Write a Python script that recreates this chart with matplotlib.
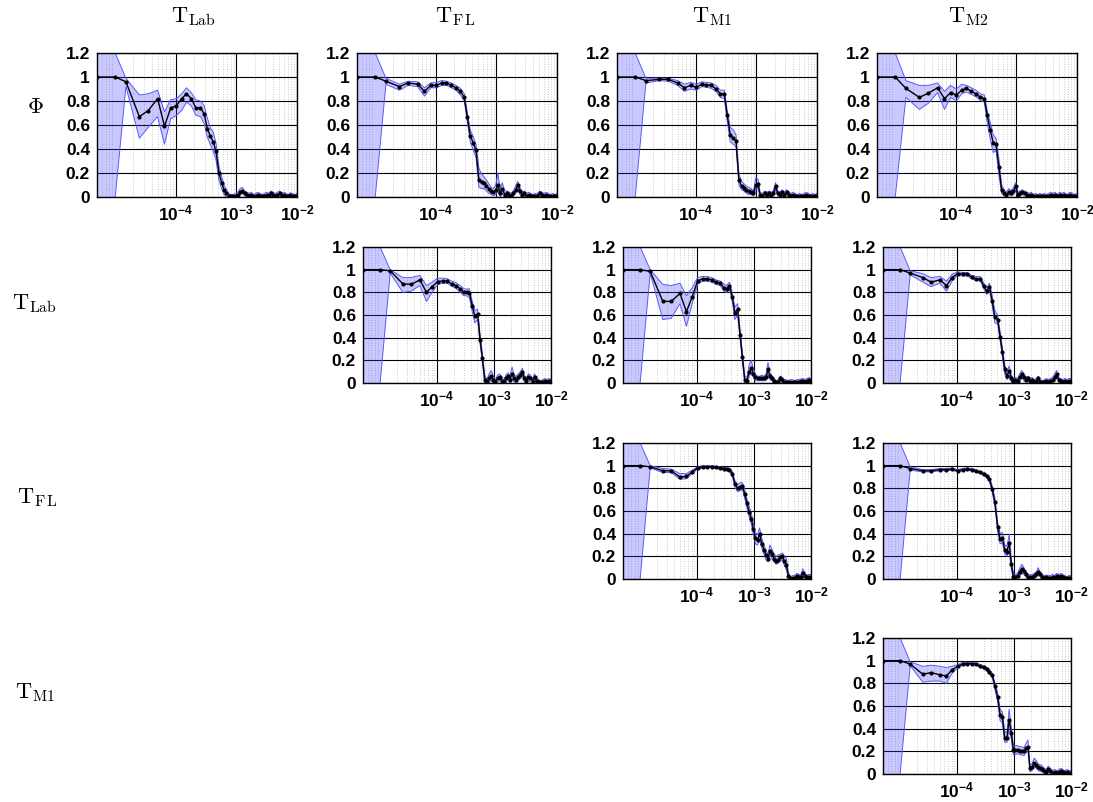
#!/usr/bin/env python3
"""Pairwise coherence grid: Phi vs frequency for each pair of series."""

import numpy as np
import matplotlib
matplotlib.use("Agg")
import matplotlib.pyplot as plt
from matplotlib.ticker import FixedLocator, LogLocator, NullFormatter

plt.rcParams['font.family'] = ['Liberation Sans', 'DejaVu Sans']
plt.rcParams['font.weight'] = 'bold'
plt.rcParams['mathtext.fontset'] = 'custom'
plt.rcParams['mathtext.rm'] = 'Liberation Sans:bold'
plt.rcParams['mathtext.bf'] = 'Liberation Sans:bold'
plt.rcParams['mathtext.it'] = 'Liberation Sans:bold'

# ---- data -------------------------------------------------------------
FREQ = [5e-6, 1e-5, 1.5e-5, 2.5e-5, 3.5e-5, 5e-5, 6.5e-5, 8.2e-5, 1.02e-4, 1.25e-4,
        1.5e-4, 1.8e-4, 2.15e-4, 2.55e-4, 2.95e-4, 3.3e-4, 3.7e-4, 4.15e-4, 4.6e-4, 5.15e-4,
        5.7e-4, 6.25e-4, 6.85e-4, 7.5e-4, 8.2e-4, 8.95e-4, 9.75e-4, 1.06e-3, 1.15e-3, 1.25e-3,
        1.37e-3, 1.49e-3, 1.62e-3, 1.76e-3, 1.9e-3, 2.07e-3, 2.25e-3, 2.45e-3, 2.65e-3, 2.9e-3,
        3.15e-3, 3.4e-3, 3.7e-3, 4.0e-3, 4.35e-3, 4.75e-3, 5.15e-3, 5.6e-3, 6.1e-3, 6.6e-3,
        7.2e-3, 7.8e-3, 8.5e-3, 9.2e-3, 1e-2]

COL_LABELS = [r'$\mathrm{T}_{\mathrm{Lab}}$', r'$\mathrm{T}_{\mathrm{F\,L}}$',
              r'$\mathrm{T}_{\mathrm{M1}}$', r'$\mathrm{T}_{\mathrm{M2}}$']
ROW_LABELS = [r'$\Phi$', r'$\mathrm{T}_{\mathrm{Lab}}$', r'$\mathrm{T}_{\mathrm{F\,L}}$',
              r'$\mathrm{T}_{\mathrm{M1}}$']

Y_TICKS = [0, 0.2, 0.4, 0.6, 0.8, 1.0, 1.2]
Y_TICK_LABELS = ['0', '0.2', '0.4', '0.6', '0.8', '1', '1.2']
X_TICKS = [1e-4, 1e-3, 1e-2]
X_TICK_LABELS = [r'$\mathbf{10^{-4}}$', r'$\mathbf{10^{-3}}$', r'$\mathbf{10^{-2}}$']

# row 0: Phi
phi_lab = [1.0, 1.0, 0.96, 0.67, 0.72, 0.82, 0.59, 0.74, 0.76, 0.82, 0.86, 0.82, 0.74, 0.745, 0.69,
           0.57, 0.51, 0.46, 0.38, 0.20, 0.12, 0.06, 0.03, 0.01, 0.005, 0.005, 0.01, 0.02, 0.04, 0.05,
           0.03, 0.02, 0.01, 0.02, 0.005, 0.01, 0.02, 0.01, 0.005, 0.01, 0.02, 0.01, 0.03, 0.02, 0.01,
           0.02, 0.03, 0.01, 0.02, 0.01, 0.005, 0.015, 0.01, 0.005, 0.01]
phi_lab_lo = [-2.0, 0.0, 0.92, 0.49, 0.58, 0.67, 0.44, 0.65, 0.68, 0.72, 0.79, 0.76, 0.68, 0.67, 0.61,
              0.50, 0.44, 0.38, 0.31, 0.14, 0.07, 0.02, 0.0, -0.01, -0.01, -0.01, -0.01, 0.0, 0.02, 0.03,
              0.01, 0.0, -0.01, 0.0, -0.01, -0.01, 0.0, -0.01, -0.01, -0.01, 0.0, -0.01, 0.01, 0.0, -0.01,
              0.0, 0.01, -0.01, 0.0, -0.01, -0.01, 0.0, -0.01, -0.01, -0.01]
phi_lab_hi = [3.0, 1.2, 0.99, 0.85, 0.86, 0.89, 0.71, 0.81, 0.82, 0.86, 0.91, 0.87, 0.81, 0.80, 0.76,
              0.66, 0.58, 0.54, 0.45, 0.26, 0.17, 0.10, 0.06, 0.03, 0.02, 0.02, 0.03, 0.04, 0.07, 0.08,
              0.05, 0.04, 0.03, 0.04, 0.02, 0.03, 0.04, 0.03, 0.02, 0.03, 0.04, 0.03, 0.05, 0.04, 0.03,
              0.04, 0.05, 0.03, 0.04, 0.03, 0.02, 0.035, 0.03, 0.02, 0.03]

phi_fl = [1.0, 1.0, 0.965, 0.92, 0.95, 0.94, 0.88, 0.93, 0.93, 0.95, 0.95, 0.93, 0.91, 0.88, 0.83,
          0.67, 0.51, 0.45, 0.39, 0.14, 0.125, 0.12, 0.09, 0.07, 0.05, 0.04, 0.06, 0.10, 0.03, 0.07,
          0.02, 0.03, 0.02, 0.01, 0.03, 0.06, 0.10, 0.05, 0.02, 0.03, 0.01, 0.02, 0.01, 0.005, 0.01,
          0.01, 0.03, 0.02, 0.01, 0.02, 0.01, 0.005, 0.01, 0.005, 0.01]
phi_fl_lo = [-2.0, 0.0, 0.94, 0.89, 0.93, 0.92, 0.84, 0.91, 0.91, 0.93, 0.93, 0.91, 0.89, 0.85, 0.80,
             0.63, 0.46, 0.39, 0.33, 0.08, 0.07, 0.07, 0.05, 0.03, 0.02, 0.01, 0.02, 0.05, 0.0, 0.03,
             0.0, 0.01, 0.0, -0.01, 0.01, 0.03, 0.07, 0.02, 0.0, 0.01, -0.01, 0.0, -0.01, -0.01, -0.01,
             -0.01, 0.01, 0.0, -0.01, 0.0, -0.01, -0.01, -0.01, -0.01, -0.01]
phi_fl_hi = [3.0, 1.2, 0.99, 0.94, 0.965, 0.96, 0.91, 0.95, 0.955, 0.97, 0.965, 0.95, 0.93, 0.905, 0.86,
             0.71, 0.56, 0.50, 0.44, 0.24, 0.19, 0.17, 0.14, 0.11, 0.08, 0.07, 0.10, 0.20, 0.06, 0.12,
             0.05, 0.05, 0.04, 0.03, 0.05, 0.09, 0.13, 0.08, 0.04, 0.05, 0.03, 0.04, 0.03, 0.02, 0.03,
             0.03, 0.05, 0.04, 0.03, 0.04, 0.03, 0.02, 0.03, 0.02, 0.03]

phi_m1 = [1.0, 1.0, 0.97, 0.98, 0.98, 0.95, 0.91, 0.93, 0.915, 0.94, 0.935, 0.93, 0.90, 0.86, 0.86,
          0.68, 0.52, 0.49, 0.47, 0.14, 0.09, 0.075, 0.06, 0.05, 0.04, 0.03, 0.10, 0.11, 0.02, 0.01,
          0.03, 0.02, 0.03, 0.02, 0.03, 0.09, 0.03, 0.02, 0.04, 0.02, 0.04, 0.02, 0.01, 0.02, 0.01,
          0.005, 0.01, 0.005, 0.01, 0.02, 0.01, 0.005, 0.01, 0.005, 0.01]
phi_m1_lo = [-2.0, 0.0, 0.95, 0.97, 0.965, 0.93, 0.88, 0.90, 0.89, 0.92, 0.915, 0.905, 0.88, 0.83, 0.82,
             0.63, 0.46, 0.44, 0.42, 0.10, 0.06, 0.05, 0.03, 0.02, 0.02, 0.01, 0.06, 0.07, 0.0, -0.01,
             0.01, 0.0, 0.01, 0.0, 0.01, 0.06, 0.01, 0.0, 0.02, 0.0, 0.02, 0.0, -0.01, 0.0, -0.01,
             -0.01, -0.01, -0.01, -0.01, 0.0, -0.01, -0.01, -0.01, -0.01, -0.01]
phi_m1_hi = [3.0, 1.2, 0.99, 0.99, 0.99, 0.97, 0.94, 0.955, 0.94, 0.96, 0.955, 0.95, 0.93, 0.89, 0.89,
             0.72, 0.58, 0.56, 0.52, 0.19, 0.13, 0.11, 0.09, 0.08, 0.07, 0.05, 0.16, 0.15, 0.04, 0.03,
             0.05, 0.04, 0.05, 0.04, 0.05, 0.12, 0.05, 0.04, 0.06, 0.04, 0.06, 0.04, 0.03, 0.04, 0.03,
             0.02, 0.03, 0.02, 0.03, 0.04, 0.03, 0.02, 0.03, 0.02, 0.03]

phi_m2 = [1.0, 1.0, 0.905, 0.83, 0.865, 0.91, 0.82, 0.87, 0.85, 0.89, 0.905, 0.88, 0.86, 0.83, 0.82,
          0.68, 0.56, 0.45, 0.44, 0.25, 0.06, 0.03, 0.02, 0.04, 0.03, 0.05, 0.09, 0.02, 0.03, 0.04,
          0.03, 0.02, 0.01, 0.02, 0.005, 0.01, 0.005, 0.01, 0.005, 0.01, 0.005, 0.01, 0.02, 0.01, 0.02,
          0.005, 0.02, 0.01, 0.02, 0.005, 0.01, 0.02, 0.01, 0.005, 0.01]
phi_m2_lo = [-2.0, 0.0, 0.83, 0.73, 0.78, 0.87, 0.73, 0.83, 0.80, 0.86, 0.875, 0.855, 0.835, 0.805, 0.79,
             0.62, 0.48, 0.37, 0.39, 0.18, 0.03, 0.01, 0.0, 0.02, 0.01, 0.02, 0.06, 0.0, 0.01, 0.02,
             0.01, 0.0, -0.01, 0.0, -0.01, -0.01, -0.01, -0.01, -0.01, -0.01, -0.01, -0.01, 0.0, -0.01, 0.0,
             -0.01, 0.0, -0.01, 0.0, -0.01, -0.01, 0.0, -0.01, -0.01, -0.01]
phi_m2_hi = [3.0, 1.2, 0.97, 0.93, 0.93, 0.95, 0.88, 0.93, 0.90, 0.94, 0.93, 0.91, 0.89, 0.86, 0.85,
             0.72, 0.62, 0.52, 0.49, 0.32, 0.10, 0.06, 0.04, 0.07, 0.05, 0.08, 0.12, 0.04, 0.05, 0.06,
             0.05, 0.04, 0.03, 0.04, 0.02, 0.03, 0.02, 0.03, 0.02, 0.03, 0.02, 0.03, 0.04, 0.03, 0.04,
             0.02, 0.04, 0.03, 0.04, 0.02, 0.03, 0.04, 0.03, 0.02, 0.03]

# row 1: T_Lab
lab_fl = [1.0, 1.0, 0.99, 0.875, 0.87, 0.91, 0.80, 0.85, 0.895, 0.90, 0.90, 0.875, 0.86, 0.83, 0.80,
          0.80, 0.79, 0.68, 0.59, 0.61, 0.38, 0.22, 0.03, 0.005, 0.04, 0.06, 0.03, 0.01, 0.04, 0.05,
          0.02, 0.01, 0.04, 0.06, 0.03, 0.08, 0.04, 0.03, 0.05, 0.07, 0.10, 0.04, 0.02, 0.05, 0.04,
          0.02, 0.05, 0.02, 0.01, 0.005, 0.01, 0.02, 0.01, 0.02, 0.01]
lab_fl_lo = [-2.0, 0.0, 0.97, 0.80, 0.81, 0.86, 0.72, 0.80, 0.87, 0.88, 0.88, 0.855, 0.835, 0.80, 0.77,
             0.77, 0.75, 0.63, 0.53, 0.56, 0.34, 0.18, 0.0, -0.01, 0.01, 0.02, 0.0, -0.01, 0.01, 0.02,
             0.0, -0.01, 0.01, 0.03, 0.0, 0.04, 0.01, 0.0, 0.02, 0.04, 0.07, 0.01, 0.0, 0.02, 0.01,
             0.0, 0.02, 0.0, -0.01, -0.01, -0.01, 0.0, -0.01, 0.0, -0.01]
lab_fl_hi = [3.0, 1.2, 1.0, 0.93, 0.93, 0.95, 0.86, 0.89, 0.925, 0.925, 0.92, 0.90, 0.885, 0.86, 0.83,
             0.83, 0.83, 0.72, 0.64, 0.65, 0.42, 0.26, 0.07, 0.03, 0.08, 0.11, 0.06, 0.03, 0.07, 0.08,
             0.05, 0.03, 0.07, 0.09, 0.06, 0.14, 0.07, 0.06, 0.08, 0.10, 0.13, 0.07, 0.04, 0.08, 0.07,
             0.04, 0.08, 0.04, 0.03, 0.02, 0.03, 0.04, 0.03, 0.04, 0.03]

lab_m1 = [1.0, 1.0, 0.985, 0.72, 0.72, 0.79, 0.63, 0.76, 0.90, 0.92, 0.92, 0.91, 0.89, 0.88, 0.84,
          0.83, 0.86, 0.76, 0.62, 0.65, 0.42, 0.23, 0.03, 0.02, 0.10, 0.13, 0.08, 0.05, 0.04, 0.04,
          0.045, 0.04, 0.05, 0.12, 0.06, 0.04, 0.02, 0.005, 0.01, 0.04, 0.03, 0.01, 0.01, 0.005, 0.01,
          0.01, 0.005, 0.01, 0.01, 0.015, 0.02, 0.01, 0.02, 0.03, 0.01]
lab_m1_lo = [-2.0, 0.0, 0.97, 0.56, 0.57, 0.70, 0.50, 0.70, 0.87, 0.90, 0.90, 0.89, 0.87, 0.86, 0.81,
             0.80, 0.83, 0.72, 0.56, 0.60, 0.38, 0.19, 0.0, -0.01, 0.06, 0.09, 0.05, 0.02, 0.02, 0.02,
             0.02, 0.02, 0.02, 0.08, 0.03, 0.02, 0.0, -0.01, -0.01, 0.02, 0.01, -0.01, -0.01, -0.01, -0.01,
             -0.01, -0.01, -0.01, -0.01, 0.0, 0.0, -0.01, 0.0, 0.01, -0.01]
lab_m1_hi = [3.0, 1.2, 1.0, 0.87, 0.86, 0.88, 0.77, 0.84, 0.93, 0.94, 0.94, 0.93, 0.91, 0.90, 0.87,
             0.86, 0.89, 0.80, 0.67, 0.70, 0.46, 0.27, 0.06, 0.05, 0.16, 0.20, 0.12, 0.08, 0.06, 0.06,
             0.07, 0.06, 0.08, 0.18, 0.09, 0.06, 0.04, 0.02, 0.03, 0.06, 0.05, 0.03, 0.03, 0.02, 0.03,
             0.03, 0.02, 0.03, 0.03, 0.035, 0.04, 0.03, 0.04, 0.05, 0.03]

lab_m2 = [1.0, 1.0, 0.97, 0.93, 0.89, 0.91, 0.86, 0.93, 0.965, 0.96, 0.96, 0.935, 0.92, 0.92, 0.855,
          0.81, 0.85, 0.72, 0.58, 0.56, 0.41, 0.27, 0.12, 0.06, 0.11, 0.04, 0.02, 0.03, 0.02, 0.05,
          0.08, 0.05, 0.03, 0.04, 0.02, 0.03, 0.01, 0.02, 0.04, 0.01, 0.005, 0.01, 0.02, 0.01, 0.02,
          0.03, 0.05, 0.08, 0.03, 0.02, 0.01, 0.02, 0.01, 0.02, 0.02]
lab_m2_lo = [-2.0, 0.0, 0.955, 0.89, 0.85, 0.88, 0.81, 0.90, 0.95, 0.945, 0.945, 0.92, 0.905, 0.90, 0.83,
             0.78, 0.82, 0.68, 0.53, 0.52, 0.37, 0.23, 0.08, 0.03, 0.06, 0.01, 0.0, 0.01, 0.0, 0.02,
             0.05, 0.02, 0.01, 0.02, 0.0, 0.01, -0.01, 0.0, 0.02, -0.01, -0.01, -0.01, 0.0, -0.01, 0.0,
             0.01, 0.02, 0.05, 0.01, 0.0, -0.01, 0.0, -0.01, 0.0, 0.0]
lab_m2_hi = [3.0, 1.2, 0.99, 0.965, 0.93, 0.94, 0.90, 0.96, 0.98, 0.975, 0.975, 0.95, 0.94, 0.94, 0.88,
             0.84, 0.88, 0.77, 0.64, 0.60, 0.45, 0.31, 0.16, 0.10, 0.15, 0.07, 0.04, 0.05, 0.04, 0.08,
             0.11, 0.08, 0.05, 0.06, 0.04, 0.05, 0.03, 0.04, 0.06, 0.03, 0.02, 0.03, 0.04, 0.03, 0.04,
             0.05, 0.08, 0.11, 0.05, 0.04, 0.03, 0.04, 0.03, 0.04, 0.04]

# row 2: T_FL
fl_m1 = [1.0, 1.0, 0.99, 0.955, 0.955, 0.90, 0.905, 0.945, 0.98, 0.99, 0.99, 0.99, 0.985, 0.98, 0.975,
         0.97, 0.965, 0.93, 0.84, 0.80, 0.81, 0.82, 0.75, 0.67, 0.59, 0.53, 0.44, 0.36, 0.34, 0.40,
         0.31, 0.26, 0.21, 0.18, 0.25, 0.22, 0.18, 0.16, 0.17, 0.19, 0.20, 0.16, 0.12, 0.03, 0.005,
         0.01, 0.01, 0.03, 0.02, 0.02, 0.05, 0.03, 0.015, 0.02, 0.02]
fl_m1_lo = [-2.0, 0.0, 0.98, 0.94, 0.94, 0.88, 0.885, 0.93, 0.97, 0.98, 0.985, 0.985, 0.975, 0.97, 0.965,
            0.955, 0.95, 0.91, 0.81, 0.77, 0.78, 0.79, 0.71, 0.63, 0.55, 0.49, 0.39, 0.31, 0.30, 0.35,
            0.27, 0.22, 0.17, 0.15, 0.21, 0.18, 0.15, 0.13, 0.14, 0.16, 0.17, 0.12, 0.08, 0.01, -0.01,
            -0.01, -0.01, 0.01, 0.0, 0.0, 0.02, 0.01, -0.01, 0.0, 0.0]
fl_m1_hi = [3.0, 1.2, 1.0, 0.975, 0.97, 0.93, 0.93, 0.96, 0.99, 1.0, 1.0, 1.0, 0.995, 0.99, 0.985,
            0.98, 0.98, 0.95, 0.87, 0.83, 0.85, 0.85, 0.79, 0.71, 0.64, 0.58, 0.49, 0.41, 0.39, 0.45,
            0.36, 0.30, 0.25, 0.22, 0.30, 0.26, 0.22, 0.20, 0.21, 0.22, 0.23, 0.20, 0.18, 0.06, 0.02,
            0.03, 0.03, 0.05, 0.04, 0.04, 0.09, 0.05, 0.035, 0.04, 0.04]

fl_m2 = [1.0, 1.0, 0.975, 0.955, 0.955, 0.965, 0.965, 0.97, 0.955, 0.965, 0.97, 0.965, 0.955, 0.94, 0.925,
         0.91, 0.88, 0.79, 0.68, 0.46, 0.35, 0.36, 0.26, 0.24, 0.32, 0.13, 0.02, 0.02, 0.03, 0.06,
         0.09, 0.07, 0.04, 0.02, 0.015, 0.02, 0.03, 0.04, 0.06, 0.04, 0.02, 0.01, 0.015, 0.01, 0.01,
         0.02, 0.01, 0.03, 0.02, 0.03, 0.02, 0.01, 0.005, 0.01, 0.01]
fl_m2_lo = [-2.0, 0.0, 0.96, 0.945, 0.945, 0.955, 0.955, 0.96, 0.945, 0.955, 0.96, 0.955, 0.945, 0.93, 0.91,
            0.895, 0.86, 0.76, 0.65, 0.42, 0.31, 0.32, 0.22, 0.20, 0.26, 0.09, 0.0, 0.0, 0.01, 0.03,
            0.05, 0.04, 0.02, 0.0, -0.01, 0.0, 0.01, 0.02, 0.03, 0.02, 0.0, -0.01, -0.01, -0.01, -0.01,
            0.0, -0.01, 0.01, 0.0, 0.01, 0.0, -0.01, -0.01, -0.01, -0.01]
fl_m2_hi = [3.0, 1.2, 0.99, 0.965, 0.965, 0.975, 0.975, 0.98, 0.965, 0.975, 0.98, 0.975, 0.965, 0.95, 0.94,
            0.925, 0.90, 0.82, 0.72, 0.50, 0.40, 0.41, 0.30, 0.29, 0.39, 0.17, 0.05, 0.04, 0.05, 0.09,
            0.13, 0.10, 0.06, 0.04, 0.035, 0.04, 0.05, 0.06, 0.10, 0.06, 0.04, 0.03, 0.035, 0.03, 0.03,
            0.04, 0.03, 0.05, 0.04, 0.05, 0.04, 0.03, 0.02, 0.03, 0.03]

# row 3: T_M1
m1_m2 = [1.0, 1.0, 0.97, 0.88, 0.895, 0.875, 0.865, 0.92, 0.95, 0.97, 0.975, 0.975, 0.97, 0.95, 0.94,
         0.925, 0.90, 0.87, 0.78, 0.68, 0.52, 0.50, 0.32, 0.32, 0.48, 0.36, 0.21, 0.21, 0.21, 0.20,
         0.205, 0.20, 0.23, 0.24, 0.05, 0.06, 0.10, 0.08, 0.06, 0.05, 0.04, 0.03, 0.02, 0.04, 0.03,
         0.01, 0.02, 0.01, 0.02, 0.03, 0.02, 0.01, 0.02, 0.01, 0.01]
m1_m2_lo = [-2.0, 0.0, 0.955, 0.81, 0.82, 0.82, 0.80, 0.89, 0.935, 0.96, 0.965, 0.965, 0.96, 0.94, 0.925,
            0.91, 0.88, 0.85, 0.75, 0.64, 0.47, 0.45, 0.28, 0.28, 0.40, 0.31, 0.17, 0.17, 0.18, 0.17,
            0.17, 0.16, 0.19, 0.20, 0.02, 0.03, 0.07, 0.05, 0.03, 0.02, 0.02, 0.01, 0.0, 0.02, 0.01,
            -0.01, 0.0, -0.01, 0.0, 0.01, 0.0, -0.01, 0.0, -0.01, -0.01]
m1_m2_hi = [3.0, 1.2, 0.99, 0.95, 0.96, 0.95, 0.94, 0.95, 0.965, 0.985, 0.985, 0.985, 0.98, 0.965, 0.955,
            0.94, 0.92, 0.89, 0.81, 0.72, 0.57, 0.55, 0.37, 0.37, 0.57, 0.41, 0.25, 0.25, 0.25, 0.24,
            0.24, 0.23, 0.27, 0.30, 0.08, 0.09, 0.14, 0.12, 0.09, 0.08, 0.07, 0.05, 0.04, 0.07, 0.05,
            0.03, 0.04, 0.03, 0.04, 0.05, 0.04, 0.03, 0.04, 0.03, 0.03]

# (row, col, mean, lower, upper)
PANELS = [
    (0, 0, phi_lab, phi_lab_lo, phi_lab_hi),
    (0, 1, phi_fl, phi_fl_lo, phi_fl_hi),
    (0, 2, phi_m1, phi_m1_lo, phi_m1_hi),
    (0, 3, phi_m2, phi_m2_lo, phi_m2_hi),
    (1, 1, lab_fl, lab_fl_lo, lab_fl_hi),
    (1, 2, lab_m1, lab_m1_lo, lab_m1_hi),
    (1, 3, lab_m2, lab_m2_lo, lab_m2_hi),
    (2, 2, fl_m1, fl_m1_lo, fl_m1_hi),
    (2, 3, fl_m2, fl_m2_lo, fl_m2_hi),
    (3, 3, m1_m2, m1_m2_lo, m1_m2_hi),
]

# ---- layout (pixels) ----------------------------------------------------
FIG_W, FIG_H = 1093, 802
BAND_FACE = (0.25, 0.25, 1.0, 0.28)
BAND_EDGE = (0.35, 0.35, 1.0)


def panel_box(row, col):
    """Return (left, top, width, height) in pixels for a grid cell."""
    if row == 0:
        return 97 + 260 * col, 53, 200, 144
    tops = {1: 247, 2: 443, 3: 638}
    return 103 + 260 * col, tops[row], 188, 136


def add_panel(fig, row, col):
    left, top, width, height = panel_box(row, col)
    return fig.add_axes([left / FIG_W, 1 - (top + height) / FIG_H,
                         width / FIG_W, height / FIG_H])


def style_axes(ax):
    ax.set_xscale('log')
    ax.set_xlim(FREQ[0], FREQ[-1])
    ax.set_ylim(0, 1.2)
    ax.set_yticks(Y_TICKS)
    ax.set_yticklabels(Y_TICK_LABELS)
    ax.xaxis.set_major_locator(FixedLocator(X_TICKS))
    ax.set_xticklabels(X_TICK_LABELS)
    ax.xaxis.set_minor_locator(LogLocator(base=10, subs=np.arange(2, 10), numticks=30))
    ax.xaxis.set_minor_formatter(NullFormatter())
    ax.grid(True, which='major', color='black', lw=0.8)
    ax.grid(True, which='minor', axis='x', color='0.72', ls=(0, (1, 2)), lw=0.6)
    ax.set_axisbelow(True)
    ax.tick_params(which='both', length=0, labelsize=12.5, pad=5)
    for lbl in ax.get_yticklabels():
        lbl.set_fontweight('bold')
    for spine in ax.spines.values():
        spine.set_linewidth(1.0)
        spine.set_zorder(6)


fig = plt.figure(figsize=(FIG_W / 100, FIG_H / 100), dpi=100)

for row, col, mean, lo, hi in PANELS:
    assert len(mean) == len(lo) == len(hi) == len(FREQ)
    ax = add_panel(fig, row, col)
    style_axes(ax)
    ax.fill_between(FREQ, lo, hi, facecolor=BAND_FACE, edgecolor='none', zorder=2)
    ax.plot(FREQ, lo, color=BAND_EDGE, lw=0.7, zorder=3)
    ax.plot(FREQ, hi, color=BAND_EDGE, lw=0.7, zorder=3)
    ax.plot(FREQ, mean, color='black', lw=1.0, marker='o', ms=2.0, zorder=4)

# column titles and row labels
col_x = [193, 455, 712, 968]
for x, text in zip(col_x, COL_LABELS):
    fig.text(x / FIG_W, 1 - 17 / FIG_H, text, ha='center', va='center',
             fontsize=16, math_fontfamily='cm')

row_pos = [(35, 108), (34, 304), (37, 498), (35, 693)]
for (x, y), text in zip(row_pos, ROW_LABELS):
    fig.text(x / FIG_W, 1 - y / FIG_H, text, ha='center', va='center',
             fontsize=16, math_fontfamily='cm')

fig.savefig('out.png', dpi=100)
